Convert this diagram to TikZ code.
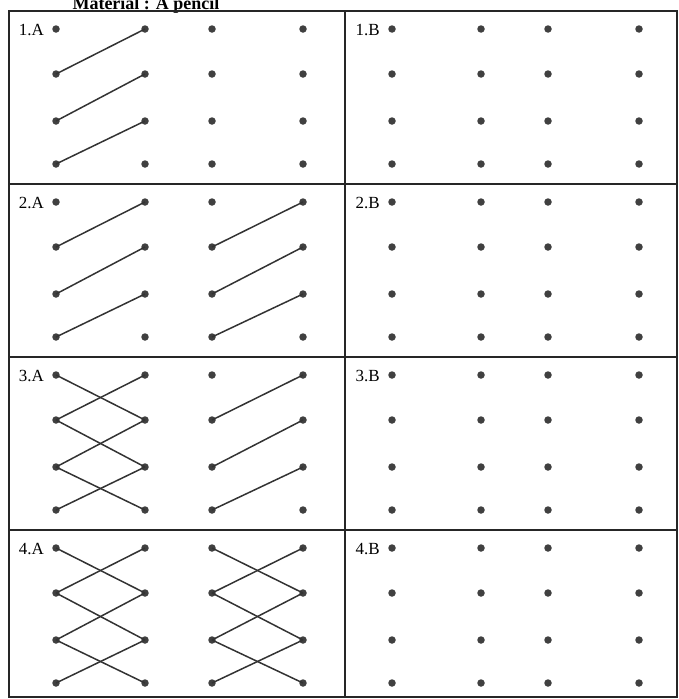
\documentclass[tikz,border=0pt]{standalone}
\usepackage{fontspec}
\setmainfont{Liberation Serif}
\begin{document}
\begin{tikzpicture}[x=1pt,y=-1pt,
  dot/.style={circle,fill=black!75,inner sep=0pt,minimum size=7.5pt},
  link/.style={line width=1.5pt,black!80},
  frame/.style={line width=1.6pt,black!85},
  lbl/.style={font=\fontsize{17}{17}\selectfont,anchor=base east,inner sep=0pt},
  ttl/.style={font=\bfseries\fontsize{18}{18}\selectfont,anchor=base,inner sep=0pt}]
\useasboundingbox (0,0) rectangle (678,699);
\node[ttl] (title) at (146,9) {Material : A pencil};
% frame and grid
\draw[frame] (9,11) rectangle (677,697);
\draw[frame] (345,11) -- (345,697);
\foreach \yy in {184,357,530} \draw[frame] (9,\yy) -- (677,\yy);
% dots and labels
\foreach \cx/\cn in {9/A,345/B}{
  \foreach \ry/\rn in {11/1,184/2,357/3,530/4}{
    \node[lbl] (l\rn\cn) at (\cx+35,\ry+24) {\rn.\cn};
    \foreach \c/\dx in {1/47,2/136,3/203,4/294}{
      \foreach \r/\dy in {1/18,2/63,3/110,4/153}{
        \node[dot] (d\rn\cn-\r-\c) at (\cx+\dx,\ry+\dy) {};
      }
    }
  }
}
% rising links
\foreach \cell/\a/\b in {1A/1/2,2A/1/2,2A/3/4,3A/1/2,3A/3/4,4A/1/2,4A/3/4}{
  \foreach \r/\s in {1/2,2/3,3/4}{
    \draw[link] (d\cell-\s-\a.center) -- (d\cell-\r-\b.center);
  }
}
% falling links
\foreach \cell/\a/\b in {3A/1/2,4A/1/2,4A/3/4}{
  \foreach \r/\s in {1/2,2/3,3/4}{
    \draw[link] (d\cell-\r-\a.center) -- (d\cell-\s-\b.center);
  }
}
\end{tikzpicture}
\end{document}
